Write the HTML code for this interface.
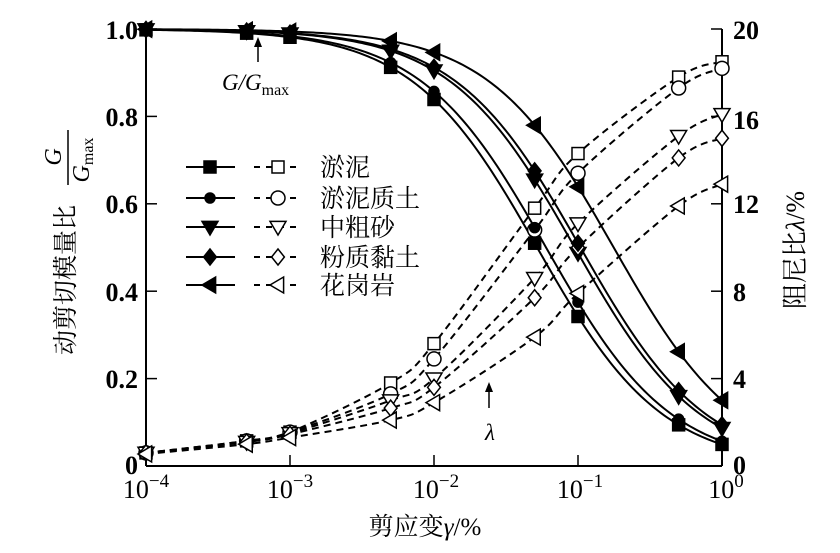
<!DOCTYPE html>
<html><head><meta charset="utf-8">
<style>
html,body{margin:0;padding:0;background:#fff;}
svg{display:block;}
text{font-family:"Liberation Serif","Noto Serif CJK SC",serif;fill:#000;}
.cj{font-family:"Liberation Serif","Noto Serif CJK SC","Noto Sans CJK SC",serif;}
</style></head><body>
<svg id="s" width="840" height="553" viewBox="0 0 840 553" xmlns="http://www.w3.org/2000/svg">
<g stroke="#000" stroke-width="2" fill="none">
<line x1="146" y1="29" x2="146" y2="466"/>
<line x1="722" y1="29" x2="722" y2="466"/>
<line x1="146" y1="466" x2="722" y2="466"/>
</g>
<g font-size="26" font-weight="bold" text-anchor="end">
<text x="138" y="39">1.0</text>
<text x="138" y="126">0.8</text>
<text x="138" y="213">0.6</text>
<text x="138" y="301">0.4</text>
<text x="138" y="388">0.2</text>
<text x="138" y="474">0</text>
</g>
<g font-size="26" font-weight="bold" text-anchor="start">
<text x="733" y="39">20</text>
<text x="733" y="129">16</text>
<text x="733" y="213">12</text>
<text x="733" y="301">8</text>
<text x="733" y="388">4</text>
<text x="733" y="474">0</text>
</g>
<g font-size="26" text-anchor="middle">
<text x="146" y="498">10<tspan dy="-11" font-size="19">−4</tspan></text>
<text x="290" y="498">10<tspan dy="-11" font-size="19">−3</tspan></text>
<text x="436" y="498">10<tspan dy="-11" font-size="19">−2</tspan></text>
<text x="580" y="498">10<tspan dy="-11" font-size="19">−1</tspan></text>
<text x="726" y="498">10<tspan dy="-11" font-size="19">0</tspan></text>
</g>
<text class="cj" x="425" y="535" font-size="25" text-anchor="middle">剪应变<tspan font-style="italic">γ</tspan>/%</text>
<g transform="translate(65,280) rotate(-90)">
<text class="cj" x="0" y="9" font-size="25" text-anchor="middle">动剪切模量比</text>
<text x="123" y="-4" font-size="24" font-style="italic" text-anchor="middle">G</text>
<line x1="95" y1="3" x2="150" y2="3" stroke="#000" stroke-width="1.5"/>
<text x="120" y="24" font-size="24" font-style="italic" text-anchor="middle">G<tspan font-style="normal" font-size="16" dy="4">max</tspan></text>
</g>
<g transform="translate(795,250) rotate(-90)">
<text class="cj" x="0" y="9" font-size="26" text-anchor="middle">阻尼比<tspan font-style="italic">λ</tspan>/%</text>
</g>
<text x="222" y="90" font-size="23" font-style="italic">G/G<tspan font-style="normal" font-size="16" dy="5">max</tspan></text>
<text x="485" y="440" font-size="23" font-style="italic">λ</text>
<g stroke="#000" stroke-width="1.5"><line x1="258" y1="62" x2="258" y2="44"/><line x1="489" y1="408" x2="489" y2="390"/></g>
<polygon points="258,37 254,47 262,47" fill="#000"/>
<polygon points="489,382 485,392 493,392" fill="#000"/>
<g id="ticks" stroke="#000" stroke-width="1.5"></g>
<g id="curves"></g>
<g id="legend"></g>
</svg>
<script>
var NS="http://www.w3.org/2000/svg",S=document.getElementById('s');
function el(t,a,p){var e=document.createElementNS(NS,t);for(var k in a)e.setAttribute(k,a[k]);(p||S).appendChild(e);return e;}
var X=function(g){return 146+144*(Math.log10(g)+4);};
var YL=function(v){return 466-437*v;};
var YR=function(v){return 466-437*v/20;};
var tk=document.getElementById('ticks');
[0,0.2,0.4,0.6,0.8,1].forEach(function(v){el('line',{x1:146,x2:157,y1:YL(v),y2:YL(v)},tk);});
[0,4,8,12,16,20].forEach(function(v){el('line',{x1:711,x2:722,y1:YR(v),y2:YR(v)},tk);});
[1e-4,1e-3,1e-2,1e-1,1].forEach(function(g){el('line',{x1:X(g),x2:X(g),y1:466,y2:455},tk);});
var xs=[1e-4,5e-4,1e-3,5e-3,1e-2,5e-2,1e-1,5e-1,1];
var GR=[0.052,0.06,0.095,0.104,0.177];
function gm(k,g){return 1/(1+g/GR[k]);}
var D=[[.6,1.15,1.55,3.8,5.6,11.8,14.3,17.8,18.5],
[.6,1.15,1.55,3.3,4.9,10.8,13.4,17.3,18.2],
[.6,1.1,1.5,3.0,4.0,8.6,11.1,15.1,16.1],
[.6,1.1,1.45,2.65,3.6,7.7,10.0,14.1,15.0],
[.55,1.0,1.3,2.1,2.9,5.9,7.9,11.9,12.9]];
function path(pts){var d='M'+pts[0][0]+','+pts[0][1];
for(var i=0;i<pts.length-1;i++){var p0=pts[i-1]||pts[i],p1=pts[i],p2=pts[i+1],p3=pts[i+2]||p2;
d+=' C'+(p1[0]+(p2[0]-p0[0])/6)+','+(p1[1]+(p2[1]-p0[1])/6)+' '+(p2[0]-(p3[0]-p1[0])/6)+','+(p2[1]-(p3[1]-p1[1])/6)+' '+p2[0]+','+p2[1];}
return d;}
function marker(k,x,y,fill,g){var f=fill?'#000':'#fff',a={fill:f,stroke:'#000','stroke-width':1.5};var s;
if(k==0){s=6;a.x=x-s;a.y=y-s;a.width=2*s;a.height=2*s;el('rect',a,g);}
else if(k==1){a.cx=x;a.cy=y;a.r=fill?5:7;el('circle',a,g);}
else{var r=8,p;
if(k==2)p=[[x-r,y-r*.7],[x+r,y-r*.7],[x,y+r]];
if(k==3)p=[[x,y-r],[x+r*.8,y],[x,y+r],[x-r*.8,y]];
if(k==4)p=[[x-r,y],[x+r*.7,y-r],[x+r*.7,y+r]];
a.points=p.map(function(q){return q.join(',')}).join(' ');el('polygon',a,g);}}
var cg=document.getElementById('curves');
for(var k=0;k<5;k++){
var pd=xs.map(function(g,i){return [X(g),YR(D[k][i])];});
el('path',{d:path(pd),fill:'none',stroke:'#000','stroke-width':2,'stroke-dasharray':'7,5'},cg);
var d='';for(var j=0;j<=200;j++){var lg=-4+4*j/200,g=Math.pow(10,lg);d+=(j?'L':'M')+X(g).toFixed(2)+','+YL(gm(k,g)).toFixed(2);}
el('path',{d:d,fill:'none',stroke:'#000','stroke-width':2},cg);
pd.forEach(function(p){marker(k,p[0],p[1],false,cg);});
xs.forEach(function(g){marker(k,X(g),YL(gm(k,g)),true,cg);});}
var lgd=document.getElementById('legend'),names=['淤泥','淤泥质土','中粗砂','粉质黏土','花岗岩'],ly=[167,198,227,257,285];
for(var k=0;k<5;k++){var y=ly[k];
el('line',{x1:186,x2:235,y1:y,y2:y,stroke:'#000','stroke-width':2},lgd);
el('line',{x1:254,x2:302,y1:y,y2:y,stroke:'#000','stroke-width':2,'stroke-dasharray':'6,6'},lgd);
marker(k,210,y,true,lgd);marker(k,278,y,false,lgd);
var t=el('text',{x:320,y:y+9,'font-size':25,'class':'cj'},lgd);t.textContent=names[k];}
</script>
</body></html>
